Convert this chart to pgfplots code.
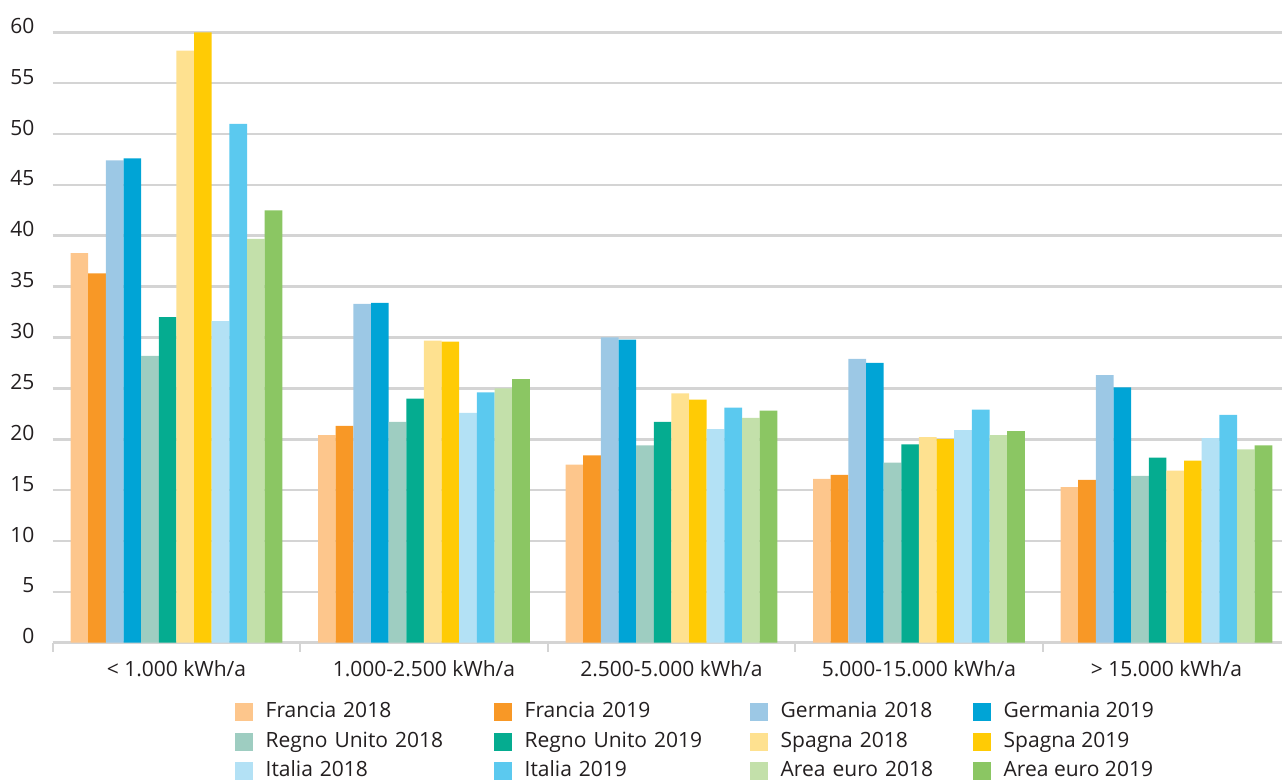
\documentclass[border=0pt]{standalone}
\usepackage{fontspec}
\setmainfont{Open Sans}
\usepackage{pgfplots}
\usepackage{pgfplotstable}
\pgfplotsset{compat=1.18}
\definecolor{cfr18}{HTML}{FDC68C}
\definecolor{cfr19}{HTML}{F89826}
\definecolor{cde18}{HTML}{9CC8E5}
\definecolor{cde19}{HTML}{00A4D6}
\definecolor{cuk18}{HTML}{9ECDC1}
\definecolor{cuk19}{HTML}{05AC90}
\definecolor{ces18}{HTML}{FEE190}
\definecolor{ces19}{HTML}{FFCB05}
\definecolor{cit18}{HTML}{B3E1F5}
\definecolor{cit19}{HTML}{5BC9EF}
\definecolor{cea18}{HTML}{C3E0AA}
\definecolor{cea19}{HTML}{8BC663}
\definecolor{gridgray}{HTML}{D4D4D4}
\definecolor{txt}{HTML}{231F20}
\pgfplotstableread{
x fr18 fr19 de18 de19 uk18 uk19 es18 es19 it18 it19 ea18 ea19
0 38.3 36.3 47.4 47.6 28.2 32.0 58.2 60.0 31.6 51.0 39.7 42.5
1 20.4 21.3 33.3 33.4 21.7 24.0 29.7 29.6 22.6 24.6 25.0 25.9
2 17.5 18.4 30.0 29.8 19.4 21.7 24.5 23.9 21.0 23.1 22.1 22.8
3 16.1 16.5 27.9 27.5 17.7 19.5 20.2 20.0 20.9 22.9 20.4 20.8
4 15.3 16.0 26.3 25.1 16.4 18.2 16.9 17.9 20.1 22.4 19.0 19.4
}\data
\begin{document}
\begin{tikzpicture}
\begin{axis}[
  name=ax,
  scale only axis,
  width=618.75pt, height=305.2pt,
  xmin=-0.5, xmax=4.5, ymin=0, ymax=60,
  ybar=0pt, bar width=8.82pt,
  axis x line*=bottom, axis y line*=left,
  y axis line style={draw=none},
  x axis line style={gridgray, line width=1.2pt},
  ytick={0,5,...,60},
  ymajorgrids,
  grid style={gridgray, line width=1.3pt},
  major y tick style={draw=none},
  xtick={0,1,2,3,4},
  xticklabels={{< 1.000 kWh/a},{1.000-2.500 kWh/a},{2.500-5.000 kWh/a},{5.000-15.000 kWh/a},{> 15.000 kWh/a}},
  major x tick style={draw=none},
  minor xtick={-0.5,0.5,1.5,2.5,3.5,4.5},
  minor x tick style={gridgray, line width=1pt},
  minor tick length=4.5pt,
  xtick align=outside,
  /pgf/number format/assume math mode=true,
  tick label style={font=\fontsize{10.5}{12}\selectfont, text=txt},
  yticklabel style={anchor=east, inner sep=0pt, xshift=-9pt, yshift=3.2pt},
  xticklabel style={anchor=base, inner sep=0pt, yshift=-12.5pt},
  legend columns=4,
  legend cell align=left,
  legend style={at={(0,0)}, anchor=north west, xshift=91pt, yshift=-29.6pt,
    draw=none, inner sep=0pt, outer sep=0pt,
    font=\fontsize{10.5}{12}\selectfont, text=txt,
    row sep=4.2pt,
    nodes={inner sep=0pt, text height=8pt, text depth=2.5pt},
    /tikz/every odd column/.append style={column sep=6.5pt},
    /tikz/every even column/.append style={column sep=0pt},
    /tikz/column 2/.style={nodes={text width=114pt}},
    /tikz/column 4/.style={nodes={text width=112.5pt}},
    /tikz/column 6/.style={nodes={text width=96pt}},
  },
  legend image code/.code={\fill[#1] (0pt,-4.5pt) rectangle (9pt,4.5pt);},
]
\addplot[fill=cfr18, draw=none] table[x=x,y=fr18]{\data};
\addplot[fill=cfr19, draw=none] table[x=x,y=fr19]{\data};
\addplot[fill=cde18, draw=none] table[x=x,y=de18]{\data};
\addplot[fill=cde19, draw=none] table[x=x,y=de19]{\data};
\addplot[fill=cuk18, draw=none] table[x=x,y=uk18]{\data};
\addplot[fill=cuk19, draw=none] table[x=x,y=uk19]{\data};
\addplot[fill=ces18, draw=none] table[x=x,y=es18]{\data};
\addplot[fill=ces19, draw=none] table[x=x,y=es19]{\data};
\addplot[fill=cit18, draw=none] table[x=x,y=it18]{\data};
\addplot[fill=cit19, draw=none] table[x=x,y=it19]{\data};
\addplot[fill=cea18, draw=none] table[x=x,y=ea18]{\data};
\addplot[fill=cea19, draw=none] table[x=x,y=ea19]{\data};
\legend{Francia 2018, Francia 2019, Germania 2018, Germania 2019,
  Regno Unito 2018, Regno Unito 2019, Spagna 2018, Spagna 2019,
  Italia 2018, Italia 2019, Area euro 2018, Area euro 2019}
\end{axis}
\pgfresetboundingbox
\path[use as bounding box] ([shift={(-26.35pt,-68.65pt)}]ax.south west) rectangle ([shift={(614.65pt,16.15pt)}]ax.north west);
\end{tikzpicture}
\end{document}
